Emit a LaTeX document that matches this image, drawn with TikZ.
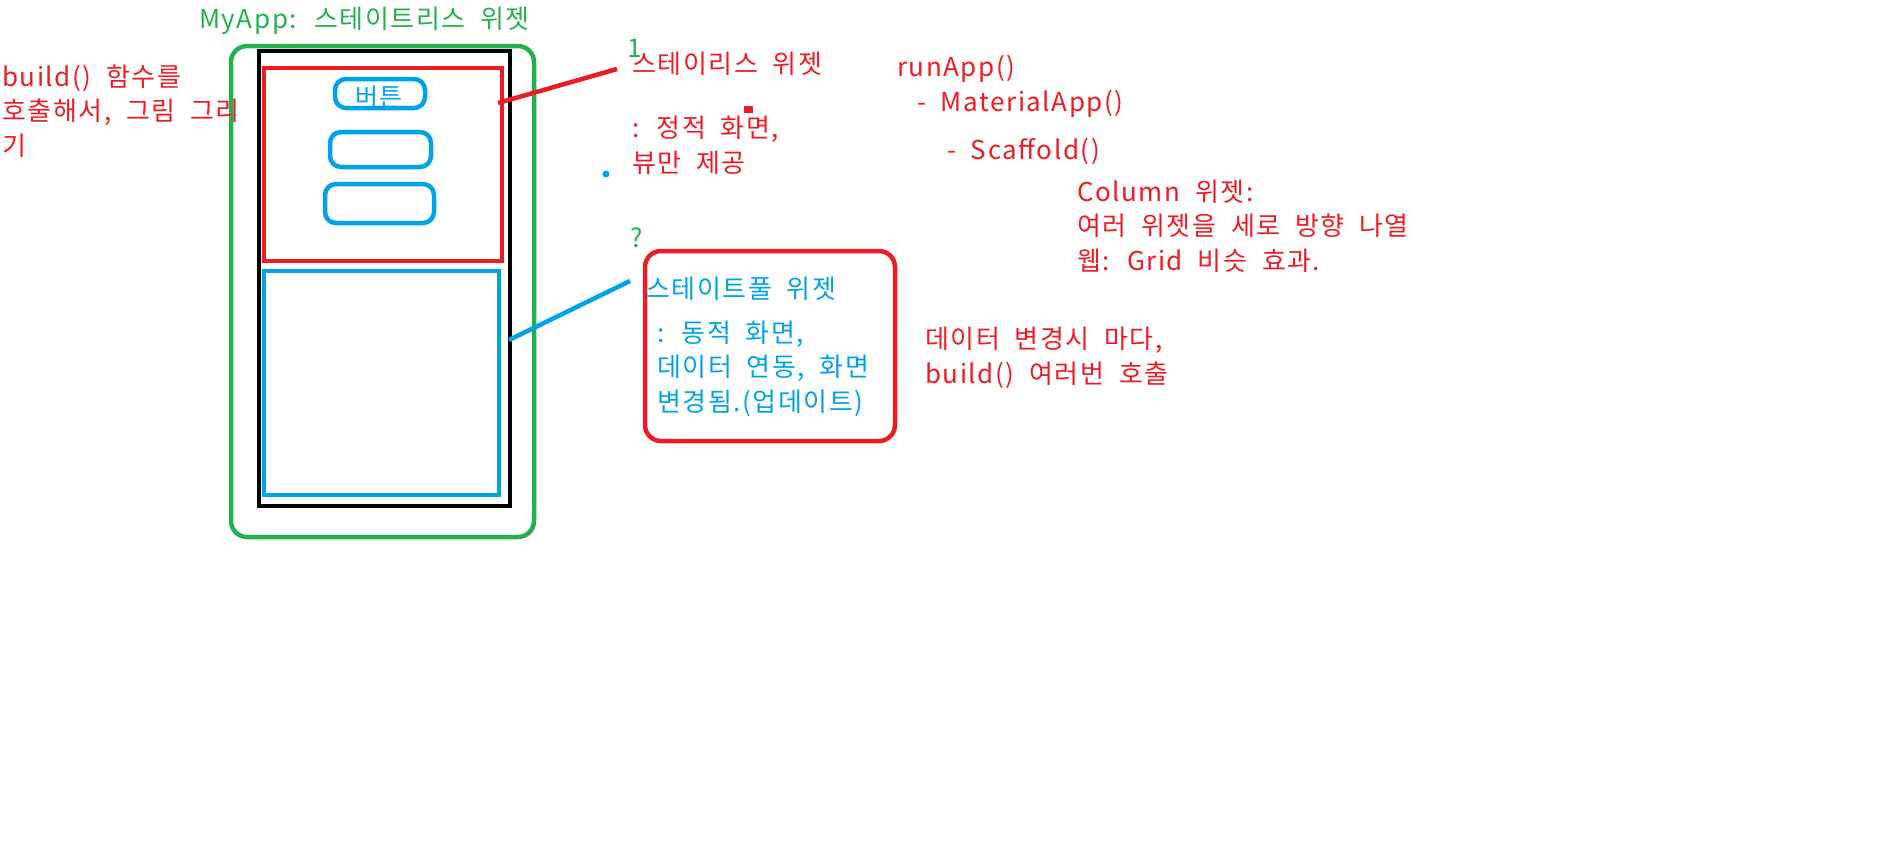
\documentclass[tikz,border=0pt]{standalone}
\usepackage{fontspec}
\setmainfont{Noto Sans CJK KR}[WordSpace=2.0, LetterSpace=6]
\definecolor{paintred}{HTML}{ED1C24}
\definecolor{paintgreen}{HTML}{22B14C}
\definecolor{paintblue}{HTML}{00A2E8}
\tikzset{
	memo/.style={inner sep=0pt, anchor=base west, align=left,
		font=\fontsize{26}{34.5}\selectfont},
	pen/.style={line width=4.5pt},
	knopf/.style={pen, draw=paintblue, rounded corners=11pt}
}

\begin{document}
\begin{tikzpicture}[x=1pt, y=-1pt]
	\useasboundingbox (0,0) rectangle (1891,854);

	% Handy mit Widgets
	\draw[pen, paintgreen, rounded corners=16pt] (231,46) rectangle (534,537);
	\draw[pen, black] (259,51) rectangle (510,506);
	\draw[pen, paintred] (264,68) rectangle (502,261);
	\draw[pen, paintblue] (264,271) rectangle (499,495);
	\draw[knopf] (335,79) rectangle (425,108);
	\node[inner sep=0pt, text=paintblue, font=\fontsize{25}{30}\selectfont] (knopfa) at (379,97) {버튼};
	\draw[knopf] (330,132) rectangle (431,167);
	\draw[knopf] (325,184) rectangle (434,223);

	% Beschriftungen links (Anker = letzte Zeile)
	\node[memo, text=paintgreen] (myapp) at (199,28) {MyApp: 스테이트리스 위젯};
	\node[memo, text=paintred] (build) at (2,155) {build() 함수를\\호출해서, 그림 그리\\기};

	% Stateless
	\coordinate (lessstart) at (498,103);
	\coordinate (lessend) at (617,69);
	\node[memo, text=paintgreen] (eins) at (627,57) {1};
	\node[memo, text=paintred] (lesstitle) at (632,73) {스테이리스 위젯};
	\draw[pen, paintred] (lessstart) -- (lessend);
	\node[memo, text=paintred] (lesstext) at (632,172) {: 정적 화면,\\뷰만 제공};
	\fill[paintred] (744,106) rectangle (753,113);
	\fill[paintblue] (606,174) circle (3.5);

	% Stateful
	\coordinate (fulstart) at (509,340);
	\coordinate (fulend) at (630,281);
	\node[memo, text=paintgreen] (zwei) at (630,247) {?};
	\draw[pen, paintred, rounded corners=16pt] (645,251) rectangle (895,441);
	\node[memo, text=paintblue] (fultitle) at (646,298) {스테이트풀 위젯};
	\draw[pen, paintblue] (fulstart) -- (fulend);
	\node[memo, text=paintblue] (fultext) at (657,411) {: 동적 화면,\\데이터 연동, 화면\\변경됨.(업데이트)};

	% Widget-Baum
	\node[memo, text=paintred] (runapp) at (897,76) {runApp()};
	\node[memo, text=paintred] (material) at (917,111) {- MaterialApp()};
	\node[memo, text=paintred] (scaffold) at (947,159) {- Scaffold()};
	\node[memo, text=paintred] (column) at (1077,270) {Column 위젯:\\여러 위젯을 세로 방향 나열\\웹: Grid 비슷 효과.};
	\node[memo, text=paintred] (rebuild) at (925,383) {데이터 변경시 마다,\\build() 여러번 호출};
\end{tikzpicture}
\end{document}
